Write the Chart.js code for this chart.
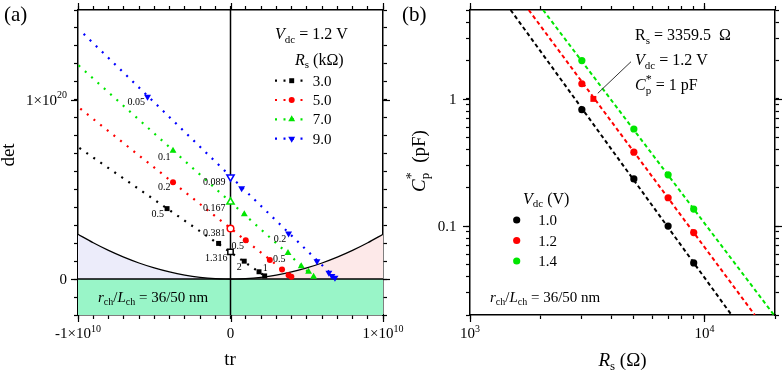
<!DOCTYPE html>
<html><head><meta charset="utf-8">
<script src="https://cdn.jsdelivr.net/npm/chart.js"></script>
<style>
html,body{margin:0;padding:0;background:#fff;}
#wrap{position:relative;width:782px;height:372px;overflow:hidden;}
canvas{position:absolute;left:0;top:0;}
</style></head><body>
<div id="wrap"><canvas id="ca" width="782" height="372"></canvas><canvas id="cb" width="782" height="372"></canvas></div>
<script>
// ================= DATA: panel (a) =================
const rsLabelsA = ['3.0', '5.0', '7.0', '9.0'];
// dotted guide lines (start, end)
const lineTr30 = [-9.91e9, 2.24e9],  lineDet30 = [0.731e20, 0.018e20];
const lineTr50 = [-9.85e9, 3.99e9],  lineDet50 = [0.950e20, 0.013e20];
const lineTr70 = [-9.96e9, 5.45e9],  lineDet70 = [1.191e20, 0.013e20];
const lineTr90 = [-9.63e9, 6.85e9],  lineDet90 = [1.367e20, 0.008e20];
// filled markers
const tr30 = [-4.16e9, -0.78e9, 0.90e9, 1.87e9, 2.24e9];
const det30 = [0.393e20, 0.199e20, 0.100e20, 0.041e20, 0.018e20];
const tr50 = [-3.77e9, 1.00e9, 2.58e9, 3.38e9, 3.81e9, 3.99e9];
const det50 = [0.540e20, 0.217e20, 0.107e20, 0.054e20, 0.022e20, 0.013e20];
const tr70 = [-3.77e9, 0.905e9, 3.77e9, 4.64e9, 5.12e9, 5.45e9];
const det70 = [0.716e20, 0.362e20, 0.145e20, 0.072e20, 0.041e20, 0.013e20];
const tr90 = [-5.44e9, 0.73e9, 3.81e9, 5.67e9, 6.45e9, 6.65e9, 6.85e9];
const det90 = [1.017e20, 0.506e20, 0.254e20, 0.100e20, 0.035e20, 0.018e20, 0.008e20];
// open markers (tr = 0)
const hopfDet = [0.152e20, 0.282e20, 0.430e20, 0.569e20];
// stability boundary det = tr^2/4
const boundTrL = [-10e9, -9e9, -8e9, -7e9, -6e9, -5e9, -4e9, -3e9, -2e9, -1e9, 0];
const boundDetL = [0.25e20, 0.2025e20, 0.16e20, 0.1225e20, 0.09e20, 0.0625e20, 0.04e20, 0.0225e20, 0.01e20, 0.0025e20, 0];
const boundTrR = [0, 1e9, 2e9, 3e9, 4e9, 5e9, 6e9, 7e9, 8e9, 9e9, 10e9];
const boundDetR = [0, 0.0025e20, 0.01e20, 0.0225e20, 0.04e20, 0.0625e20, 0.09e20, 0.1225e20, 0.16e20, 0.2025e20, 0.25e20];
// Cp annotations [text, tr, det]
const cpNotes = [
  ['0.05', -6.18e9, 0.985e20], ['0.1', -4.34e9, 0.681e20], ['0.2', -4.34e9, 0.510e20], ['0.5', -4.77e9, 0.362e20],
  ['0.089', -1.06e9, 0.540e20], ['0.167', -1.06e9, 0.393e20], ['0.381', -1.06e9, 0.254e20], ['1.316', -0.94e9, 0.115e20],
  ['0.5', 0.48e9, 0.184e20], ['2', 0.58e9, 0.068e20], ['1', 2.28e9, 0.060e20], ['0.5', 3.20e9, 0.110e20], ['0.2', 3.25e9, 0.221e20]
];
const trTicks = []; for (let i = -10; i <= 10; i++) trTicks.push(i * 1e9);
const detTicks = []; for (let i = -2; i <= 15; i++) detTicks.push(i * 1e19);
// tick labels [value, mantissa text, superscript]
const trTickLabels = [[-1e10, '-1×10', '10'], [0, '0', ''], [1e10, '1×10', '10']];
const detTickLabels = [[0, '0', ''], [1e20, '1×10', '20']];

// ================= DATA: panel (b) =================
const vdcLabels = ['1.0', '1.2', '1.4'];
const rsB = [3000, 5000, 7000, 9000];
const cp10 = [0.823, 0.235, 0.100, 0.0513];
const cp12 = [1.316, 0.381, 0.167, 0.089];
const cp14 = [2.00, 0.58, 0.253, 0.136];
const fitRs10 = [1490, 13050], fitCp10 = [5, 0.02];
const fitRs12 = [1780, 16400], fitCp12 = [5, 0.02];
const fitRs14 = [2050, 19800], fitCp14 = [5, 0.02];
const markRs = [3359.5], markCp = [1];
const rsTicks = [1000, 2000, 3000, 4000, 5000, 6000, 7000, 8000, 9000, 10000, 20000];
const cpTicks = [0.02, 0.03, 0.04, 0.05, 0.06, 0.07, 0.08, 0.09, 0.1, 0.2, 0.3, 0.4, 0.5, 0.6, 0.7, 0.8, 0.9, 1, 2, 3, 4, 5];
const rsTickLabels = [[1000, '10', '3'], [10000, '10', '4']];
const cpTickLabels = [[0.1, '0.1', ''], [1, '1', '']];

// ================= STYLE / HELPERS =================
const SERIF = '"Liberation Serif","Times New Roman",serif';
const F = (s, it) => (it ? 'italic ' : '') + s + 'px ' + SERIF;
const BLACK = '#000000', RED = '#ff0000', GREEN = '#00e600', BLUE = '#0000ff';
const colA = [BLACK, RED, GREEN, BLUE];
const pts = (xs, ys) => xs.map((x, i) => ({x: x, y: ys[i]}));

function rich(ctx, x, y, parts, align) {
  let w = 0;
  for (const p of parts) { ctx.font = p[1]; if (p[3] !== false) w += ctx.measureText(p[0]).width; }
  let cx = align === 'center' ? x - w / 2 : (align === 'right' ? x - w : x);
  ctx.textAlign = 'left'; ctx.textBaseline = 'alphabetic';
  for (const p of parts) {
    ctx.font = p[1]; ctx.fillText(p[0], cx, y + (p[2] || 0));
    if (p[3] !== false) cx += ctx.measureText(p[0]).width;
  }
}
function tickLabels(chart, id, list, offset) {
  const s = chart.scales[id], ctx = chart.ctx;
  ctx.fillStyle = BLACK;
  for (const [v, m, sup] of list) {
    const p = s.getPixelForValue(v);
    const parts = [[m, F(15)]]; if (sup) parts.push([sup, F(10), -6.5]);
    if (s.position === 'bottom') rich(ctx, p, s.top + offset, parts, 'center');
    else rich(ctx, s.right - offset, p + 5, parts, 'right');
  }
}
function marker(ctx, style, x, y, r, color, open) {
  ctx.save(); ctx.fillStyle = open ? '#fff' : color; ctx.strokeStyle = color; ctx.lineWidth = 1.5;
  ctx.beginPath();
  if (style === 'rect') { const s = r * Math.SQRT1_2; ctx.rect(x - s, y - s, 2 * s, 2 * s); }
  else if (style === 'circle') ctx.arc(x, y, r, 0, Math.PI * 2);
  else {
    let a = style === 'tridown' ? Math.PI : 0;
    for (let k = 0; k < 3; k++) { const px = x + Math.sin(a) * r, py = y - Math.cos(a) * r; k ? ctx.lineTo(px, py) : ctx.moveTo(px, py); a += 2 * Math.PI / 3; }
    ctx.closePath();
  }
  ctx.fill(); if (open) ctx.stroke(); ctx.restore();
}
function axis(pos, size, extra) {
  const o = {
    position: pos,
    grid: {drawOnChartArea: false, drawTicks: true, tickLength: 4, tickColor: BLACK, tickWidth: 1.2},
    border: {display: true, color: BLACK, width: 1.5},
    ticks: {display: false, autoSkip: false, maxRotation: 0, minRotation: 0},
    afterFit: function (s) {
      if (pos === 'left' || pos === 'right') s.width = size; else s.height = size;
      s.paddingLeft = 0; s.paddingRight = 0; s.paddingTop = 0; s.paddingBottom = 0;
    }
  };
  for (const k in extra) o[k] = extra[k];
  return o;
}
function majorTicks(chart, list) {
  const ctx = chart.ctx; ctx.save(); ctx.strokeStyle = BLACK; ctx.lineWidth = 1.2;
  for (const [id, v] of list) {
    const s = chart.scales[id]; const p = Math.round(s.getPixelForValue(v)) + 0.5; ctx.beginPath();
    if (s.position === 'bottom') { ctx.moveTo(p, s.top); ctx.lineTo(p, s.top + 7); }
    else if (s.position === 'top') { ctx.moveTo(p, s.bottom); ctx.lineTo(p, s.bottom - 7); }
    else if (s.position === 'left') { ctx.moveTo(s.right, p); ctx.lineTo(s.right - 7, p); }
    else { ctx.moveTo(s.left, p); ctx.lineTo(s.left + 7, p); }
    ctx.stroke();
  }
  ctx.restore();
}

// ================= PANEL (a) =================
const dotted = (c, xs, ys) => ({type: 'line', data: pts(xs, ys), borderColor: c, borderWidth: 2.2, borderDash: [2, 6.5], pointRadius: 0, fill: false, order: 3});
const filled = (c, st, rot, r, xs, ys) => ({type: 'scatter', data: pts(xs, ys), pointStyle: st, rotation: rot, pointRadius: r, backgroundColor: c, borderColor: c, borderWidth: 0, order: 2});
const openM = (c, st, rot, r, y) => ({type: 'scatter', data: [{x: 0, y: y}], pointStyle: st, rotation: rot, pointRadius: r, backgroundColor: '#ffffff', borderColor: c, borderWidth: 1.5, order: 1});

const pluginA = {
  id: 'decorA',
  afterDraw(chart) {
    const ctx = chart.ctx, xs = chart.scales.x, ys = chart.scales.y;
    majorTicks(chart, [['x', -1e10], ['x', 0], ['x', 1e10], ['x2', -1e10], ['x2', 0], ['x2', 1e10], ['y', 0], ['y', 1e20], ['y2', 0], ['y2', 1e20]]);
    ctx.save(); ctx.fillStyle = BLACK;
    tickLabels(chart, 'x', trTickLabels, 23.3);
    tickLabels(chart, 'y', detTickLabels, 11);
    ctx.font = F(10); ctx.textAlign = 'center'; ctx.textBaseline = 'middle';
    for (const [t, a, b] of cpNotes) ctx.fillText(t, xs.getPixelForValue(a), ys.getPixelForValue(b));
    rich(ctx, 4, 21, [['(a)', F(21)]]);
    rich(ctx, 230, 365, [['tr', F(19)]], 'center');
    ctx.save(); ctx.translate(14, 155); ctx.rotate(-Math.PI / 2); rich(ctx, 0, 0, [['det', F(19)]], 'center'); ctx.restore();
    // legend
    rich(ctx, 275, 39, [['V', F(16, true)], ['dc', F(11), 3.5], [' = 1.2 V', F(16)]]);
    rich(ctx, 295, 64.5, [['R', F(16, true)], ['s', F(11), 3.5], [' (kΩ)', F(16)]]);
    const rowsY = [80.7, 100, 119.3, 138.7];
    const styles = [['rect', 3.5], ['circle', 3], ['tri', 4], ['tridown', 4]];
    for (let i = 0; i < 4; i++) {
      ctx.save(); ctx.strokeStyle = colA[i]; ctx.lineWidth = 2.2; ctx.setLineDash([2, 6.5]);
      ctx.beginPath(); ctx.moveTo(275, rowsY[i]); ctx.lineTo(307, rowsY[i]); ctx.stroke(); ctx.restore();
      marker(ctx, styles[i][0], 291.7, rowsY[i], styles[i][1], colA[i], false);
      ctx.fillStyle = BLACK; rich(ctx, 312.7, rowsY[i] + 5, [[rsLabelsA[i], F(15)]]);
    }
    rich(ctx, 98, 301.7, [['r', F(15, true)], ['ch', F(10), 3], ['/', F(15)], ['L', F(15, true)], ['ch', F(10), 3], [' = 36/50 nm', F(15)]]);
    ctx.restore();
  }
};

new Chart(document.getElementById('ca'), {
  data: {
    datasets: [
      {type: 'line', data: pts([-1e10, 1e10], [0, 0]), borderWidth: 0, borderColor: 'rgba(0,0,0,0)', backgroundColor: '#99f5c8', fill: 'start', pointRadius: 0, order: 12},
      {type: 'line', data: pts(boundTrL, boundDetL), borderColor: BLACK, borderWidth: 1.2, backgroundColor: '#ececfa', fill: 'origin', pointRadius: 0, cubicInterpolationMode: 'monotone', order: 11},
      {type: 'line', data: pts(boundTrR, boundDetR), borderColor: BLACK, borderWidth: 1.2, backgroundColor: '#fde9e9', fill: 'origin', pointRadius: 0, cubicInterpolationMode: 'monotone', order: 11},
      {type: 'line', data: pts([-1e10, 1e10], [0, 0]), borderColor: BLACK, borderWidth: 1.5, pointRadius: 0, fill: false, order: 6},
      {type: 'line', data: pts([0, 0], [-0.2e20, 1.5e20]), borderColor: BLACK, borderWidth: 1.5, pointRadius: 0, fill: false, order: 6},
      dotted(BLACK, lineTr30, lineDet30), dotted(RED, lineTr50, lineDet50), dotted(GREEN, lineTr70, lineDet70), dotted(BLUE, lineTr90, lineDet90),
      filled(BLACK, 'rect', 0, 3.5, tr30, det30), filled(RED, 'circle', 0, 3, tr50, det50),
      filled(GREEN, 'triangle', 0, 4, tr70, det70), filled(BLUE, 'triangle', 180, 4, tr90, det90),
      openM(BLACK, 'rect', 0, 3.8, hopfDet[0]), openM(RED, 'circle', 0, 3.3, hopfDet[1]),
      openM(GREEN, 'triangle', 0, 4.2, hopfDet[2]), openM(BLUE, 'triangle', 180, 4.2, hopfDet[3])
    ]
  },
  options: {
    responsive: false, animation: false, devicePixelRatio: 1,
    layout: {padding: 0},
    plugins: {legend: {display: false}, tooltip: {enabled: false}},
    scales: {
      x: axis('bottom', 57, {type: 'linear', min: -1e10, max: 1e10, afterBuildTicks: s => { s.ticks = trTicks.map(v => ({value: v})); }}),
      x2: axis('top', 10, {type: 'linear', min: -1e10, max: 1e10, afterBuildTicks: s => { s.ticks = trTicks.map(v => ({value: v})); }}),
      y: axis('left', 78, {type: 'linear', min: -0.2e20, max: 1.5e20, afterBuildTicks: s => { s.ticks = detTicks.map(v => ({value: v})); }}),
      y2: axis('right', 399, {type: 'linear', min: -0.2e20, max: 1.5e20, afterBuildTicks: s => { s.ticks = detTicks.map(v => ({value: v})); }})
    }
  },
  plugins: [pluginA]
});

// ================= PANEL (b) =================
const colB = [BLACK, RED, GREEN];
const dashed = (c, xs, ys) => ({type: 'line', data: pts(xs, ys), borderColor: c, borderWidth: 2, borderDash: [4, 3], pointRadius: 0, fill: false, order: 3});
const dotsB = (c, ys) => ({type: 'scatter', data: pts(rsB, ys), pointStyle: 'circle', pointRadius: 3.6, backgroundColor: c, borderWidth: 0, order: 2});

const pluginB = {
  id: 'decorB',
  afterDraw(chart) {
    const ctx = chart.ctx, xs = chart.scales.x, ys = chart.scales.y;
    majorTicks(chart, [['x', 1000], ['x', 10000], ['x2', 1000], ['x2', 10000], ['y', 0.1], ['y', 1], ['y2', 0.1], ['y2', 1]]);
    ctx.save(); ctx.fillStyle = BLACK;
    tickLabels(chart, 'x', rsTickLabels, 23.3);
    tickLabels(chart, 'y', cpTickLabels, 13.5);
    rich(ctx, 402, 21, [['(b)', F(21)]]);
    rich(ctx, 622.5, 365.5, [['R', F(19, true)], ['s', F(13), 4], [' (Ω)', F(19)]], 'center');
    ctx.save(); ctx.translate(425, 161); ctx.rotate(-Math.PI / 2);
    rich(ctx, 0, 0, [['C', F(19, true)], ['p', F(13), 4, false], ['*', F(14), -9], ['  (pF)', F(19)]], 'center'); ctx.restore();
    // annotation
    rich(ctx, 635, 40, [['R', F(16)], ['s', F(11), 3.5], [' = 3359.5  Ω', F(16)]]);
    rich(ctx, 635, 65, [['V', F(16, true)], ['dc', F(11), 3.5], [' = 1.2 V', F(16)]]);
    rich(ctx, 635, 90, [['C', F(16, true)], ['p', F(11), 3.5, false], ['*', F(12), -7], [' = 1 pF', F(16)]]);
    const mx = xs.getPixelForValue(markRs[0]), my = ys.getPixelForValue(markCp[0]);
    ctx.strokeStyle = '#333'; ctx.lineWidth = 1; ctx.beginPath(); ctx.moveTo(mx + 4.4, my - 5.6); ctx.lineTo(631, 61.7); ctx.stroke();
    // legend
    rich(ctx, 523, 203.5, [['V', F(16, true)], ['dc', F(11), 3.5], [' (V)', F(16)]]);
    const rowsY = [220, 240.5, 261];
    for (let i = 0; i < 3; i++) {
      marker(ctx, 'circle', 516.7, rowsY[i], 3.6, colB[i], false);
      ctx.fillStyle = BLACK; rich(ctx, 538.3, rowsY[i] + 5, [[vdcLabels[i], F(15)]]);
    }
    rich(ctx, 490, 301.7, [['r', F(15, true)], ['ch', F(10), 3], ['/', F(15)], ['L', F(15, true)], ['ch', F(10), 3], [' = 36/50 nm', F(15)]]);
    ctx.restore();
  }
};

new Chart(document.getElementById('cb'), {
  data: {
    datasets: [
      dashed(BLACK, fitRs10, fitCp10), dashed(RED, fitRs12, fitCp12), dashed(GREEN, fitRs14, fitCp14),
      dotsB(BLACK, cp10), dotsB(RED, cp12), dotsB(GREEN, cp14),
      {type: 'scatter', data: pts(markRs, markCp), pointStyle: 'rect', pointRadius: 4.2, backgroundColor: RED, borderWidth: 0, order: 1}
    ]
  },
  options: {
    responsive: false, animation: false, devicePixelRatio: 1,
    layout: {padding: 0},
    plugins: {legend: {display: false}, tooltip: {enabled: false}},
    scales: {
      x: axis('bottom', 57, {type: 'logarithmic', min: 1000, max: 20000, afterBuildTicks: s => { s.ticks = rsTicks.map(v => ({value: v})); }}),
      x2: axis('top', 10, {type: 'logarithmic', min: 1000, max: 20000, afterBuildTicks: s => { s.ticks = rsTicks.map(v => ({value: v})); }}),
      y: axis('left', 470, {type: 'logarithmic', min: 0.02, max: 5, afterBuildTicks: s => { s.ticks = cpTicks.map(v => ({value: v})); }}),
      y2: axis('right', 7, {type: 'logarithmic', min: 0.02, max: 5, afterBuildTicks: s => { s.ticks = cpTicks.map(v => ({value: v})); }})
    }
  },
  plugins: [pluginB]
});
</script>
</body></html>
